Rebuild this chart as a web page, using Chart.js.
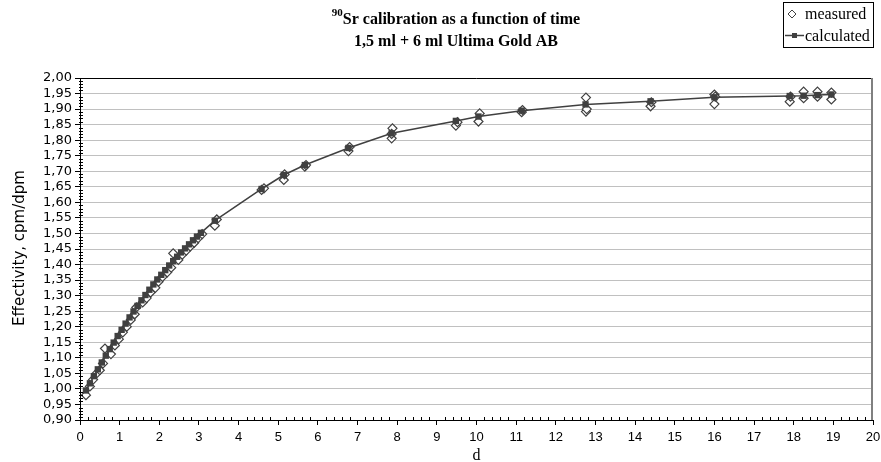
<!DOCTYPE html>
<html>
<head>
<meta charset="utf-8">
<script src="https://cdn.jsdelivr.net/npm/chart.js@4"></script>
<style>
  html, body { margin: 0; padding: 0; background: #fff; }
  canvas { display: block; }
</style>
</head>
<body>
<canvas id="chart" width="881" height="462"></canvas>
<script>
// time in days (d) and effectivity (cpm/dpm)
const CALC_D = [0.15, 0.25, 0.35, 0.45, 0.55, 0.65, 0.75, 0.85, 0.95, 1.05,
  1.15, 1.25, 1.35, 1.45, 1.55, 1.65, 1.75, 1.85, 1.95, 2.05,
  2.15, 2.25, 2.35, 2.45, 2.55, 2.65, 2.75, 2.85, 2.95, 3.05,
  3.40, 4.58, 5.14, 5.67, 6.77, 7.86, 9.48, 10.05, 11.14, 12.75,
  14.39, 16.0, 17.9, 18.25, 18.6, 18.95];
const CALC_V = [0.995, 1.018, 1.041, 1.063, 1.085, 1.107, 1.128, 1.149, 1.170, 1.190,
  1.210, 1.230, 1.249, 1.267, 1.285, 1.302, 1.319, 1.336, 1.352, 1.367,
  1.382, 1.397, 1.411, 1.425, 1.439, 1.452, 1.465, 1.478, 1.490, 1.502,
  1.541, 1.643, 1.688, 1.720, 1.775, 1.822, 1.862, 1.876, 1.895, 1.915,
  1.925, 1.938, 1.942, 1.943, 1.945, 1.947];

const MEAS_D = [0.15, 0.25, 0.33, 0.42, 0.50, 0.58, 0.63, 0.78, 0.88, 0.98,
  1.08, 1.18, 1.28, 1.38, 1.42, 1.58, 1.68, 1.78, 1.90, 1.98,
  2.08, 2.20, 2.30, 2.35, 2.48, 2.58, 2.68, 2.78, 2.88, 2.98,
  3.08, 3.40, 3.45, 4.58, 4.64, 5.14, 5.16, 5.67, 5.70, 6.77,
  6.80, 7.86, 7.88, 7.86, 9.48, 9.52, 10.05, 10.08, 11.14, 11.16,
  12.76, 12.76, 12.78, 14.39, 14.41, 16.0, 16.0, 16.02, 17.9, 17.92,
  18.25, 18.25, 18.6, 18.6, 18.95, 18.95];
const MEAS_V = [0.980, 1.008, 1.030, 1.050, 1.060, 1.082, 1.130, 1.112, 1.140, 1.160,
  1.182, 1.200, 1.222, 1.240, 1.262, 1.278, 1.292, 1.310, 1.325, 1.345,
  1.360, 1.375, 1.390, 1.436, 1.415, 1.432, 1.445, 1.458, 1.470, 1.485,
  1.498, 1.525, 1.545, 1.640, 1.645, 1.672, 1.690, 1.715, 1.720, 1.765,
  1.778, 1.806, 1.838, 1.820, 1.847, 1.858, 1.860, 1.886, 1.890, 1.897,
  1.937, 1.892, 1.900, 1.909, 1.922, 1.916, 1.947, 1.940, 1.924, 1.940,
  1.935, 1.956, 1.940, 1.956, 1.931, 1.953];

const Y_MIN = 0.9, Y_MAX = 2.0, Y_STEP = 0.05, Y_MINOR = 0.01;
const X_MIN = 0, X_MAX = 20, X_STEP = 1, X_MINOR = 0.2;

const INK = "#404040";
const GRID = "#c0c0c0";
const SERIF = "'Liberation Serif', 'Times New Roman', serif";
const SANS = "'DejaVu Sans', sans-serif";

function toPoints(xs, ys) {
  return xs.map((x, i) => ({ x, y: ys[i] }));
}

// title, legend box, axis titles, frame and minor ticks
const decorations = {
  id: "decorations",
  beforeDatasetsDraw(chart) {
    const { ctx, chartArea: a } = chart;
    ctx.save();
    ctx.strokeStyle = "#000";
    ctx.lineWidth = 1;
    ctx.beginPath();
    ctx.moveTo(a.left, a.top + 0.5);
    ctx.lineTo(a.right, a.top + 0.5);
    ctx.stroke();
    ctx.strokeStyle = "#808080";
    ctx.lineWidth = 2;
    ctx.beginPath();
    ctx.moveTo(a.right - 1, a.top);
    ctx.lineTo(a.right - 1, a.bottom);
    ctx.stroke();
    ctx.restore();
  },
  afterDraw(chart) {
    const { ctx, chartArea: a } = chart;
    const xs = chart.scales.x, ys = chart.scales.y;
    ctx.save();

    // minor ticks
    ctx.strokeStyle = "#000";
    ctx.lineWidth = 1;
    ctx.beginPath();
    const ny = Math.round((Y_MAX - Y_MIN) / Y_MINOR);
    for (let i = 0; i <= ny; i++) {
      if (i % 5 === 0) continue;
      const y = Math.round(ys.getPixelForValue(Y_MIN + i * Y_MINOR)) + 0.5;
      ctx.moveTo(a.left - 1, y);
      ctx.lineTo(a.left + 3, y);
    }
    const nx = Math.round((X_MAX - X_MIN) / X_MINOR);
    for (let i = 0; i <= nx; i++) {
      if (i % 5 === 0) continue;
      const x = Math.round(xs.getPixelForValue(X_MIN + i * X_MINOR)) + 0.5;
      ctx.moveTo(x, a.bottom - 3);
      ctx.lineTo(x, a.bottom + 1);
    }
    ctx.stroke();

    // title with superscript
    ctx.fillStyle = "#000";
    ctx.textBaseline = "alphabetic";
    ctx.textAlign = "left";
    const main = "Sr calibration as a function of time";
    ctx.font = "bold 16px " + SERIF;
    const wMain = ctx.measureText(main).width;
    ctx.font = "bold 11px " + SERIF;
    const wSup = ctx.measureText("90").width;
    const x0 = 456 - (wMain + wSup) / 2;
    ctx.fillText("90", x0, 16);
    ctx.font = "bold 16px " + SERIF;
    ctx.fillText(main, x0 + wSup, 24);
    ctx.textAlign = "center";
    ctx.fillText("1,5 ml + 6 ml Ultima Gold AB", 456, 46);

    // legend
    ctx.strokeStyle = "#000";
    ctx.lineWidth = 1;
    ctx.strokeRect(783.5, 2.5, 90, 45);
    ctx.fillStyle = "#fff";
    ctx.strokeStyle = INK;
    ctx.beginPath();
    ctx.moveTo(788, 14); ctx.lineTo(792, 10); ctx.lineTo(796, 14); ctx.lineTo(792, 18); ctx.closePath();
    ctx.fill(); ctx.stroke();
    ctx.lineWidth = 1.5;
    ctx.beginPath();
    ctx.moveTo(785, 35.5); ctx.lineTo(804, 35.5);
    ctx.stroke();
    ctx.fillStyle = INK;
    ctx.fillRect(792, 33, 5, 5);
    ctx.fillStyle = "#000";
    ctx.textAlign = "left";
    ctx.font = "16px " + SERIF;
    ctx.fillText("measured", 805, 19);
    ctx.fillText("calculated", 805, 41);

    // axis titles
    ctx.textAlign = "center";
    ctx.font = "16px " + SERIF;
    ctx.fillText("d", (a.left + a.right) / 2, 460);
    ctx.translate(24, 248);
    ctx.rotate(-Math.PI / 2);
    ctx.font = "15px " + SANS;
    ctx.fillText("Effectivity, cpm/dpm", 0, 0);
    ctx.restore();
  },
};

new Chart(document.getElementById("chart"), {
  type: "scatter",
  data: {
    datasets: [
      {
        label: "calculated",
        data: toPoints(CALC_D, CALC_V),
        showLine: true,
        borderColor: INK,
        backgroundColor: INK,
        borderWidth: 1.5,
        pointStyle: "rect",
        pointRadius: 4.5,
        pointBorderWidth: 0,
        tension: 0,
      },
      {
        label: "measured",
        data: toPoints(MEAS_D, MEAS_V),
        showLine: false,
        pointStyle: "rectRot",
        pointRadius: 4.5,
        pointBackgroundColor: "#fff",
        pointBorderColor: INK,
        pointBorderWidth: 1.2,
      },
    ],
  },
  options: {
    responsive: false,
    animation: false,
    devicePixelRatio: 1,
    events: [],
    layout: { padding: { top: 78, right: 8, left: 0, bottom: 0 } },
    plugins: { legend: { display: false }, tooltip: { enabled: false }, title: { display: false } },
    scales: {
      x: {
        type: "linear",
        min: X_MIN,
        max: X_MAX,
        afterFit: (s) => { s.height = 42; s.paddingLeft = 0; s.paddingRight = 0; },
        ticks: { stepSize: X_STEP, color: "#000", padding: 5, font: { family: "'Liberation Sans', Arial, sans-serif", size: 13 } },
        grid: { drawOnChartArea: false, tickLength: 5, tickColor: "#000" },
        border: { color: "#000", width: 1 },
      },
      y: {
        type: "linear",
        min: Y_MIN,
        max: Y_MAX,
        afterFit: (s) => { s.width = 80; s.paddingTop = 0; s.paddingBottom = 0; },
        ticks: {
          stepSize: Y_STEP,
          autoSkip: false,
          color: "#000",
          padding: 3,
          font: { family: SANS, size: 13 },
          callback: (v) => v.toFixed(2).replace(".", ","),
        },
        grid: { color: GRID, lineWidth: 1, tickLength: 5, tickColor: "#000" },
        border: { color: "#000", width: 1 },
      },
    },
  },
  plugins: [decorations],
});
</script>
</body>
</html>
